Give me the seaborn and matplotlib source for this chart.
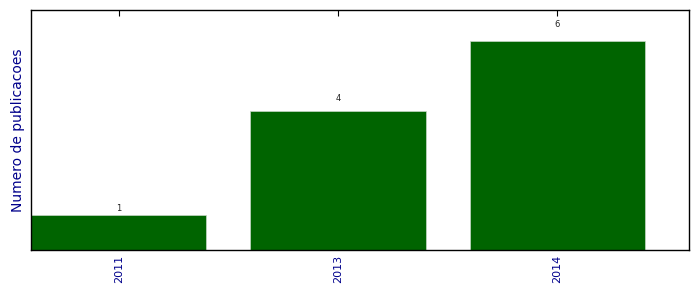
import matplotlib
matplotlib.use("Agg")
import matplotlib.pyplot as plt
import seaborn as sns
import pandas as pd

years = ["2011", "2013", "2014"]
counts = [1, 4, 6]

sns.set_style("ticks")
plt.rcParams['font.family'] = ['DejaVu Sans']

fig = plt.figure(figsize=(6.99, 2.92), dpi=100)
ax = fig.add_axes([31/699, 1 - 250/292, (689-31)/699, (250-10)/292])

df = pd.DataFrame({"year": years, "count": counts})
sns.barplot(data=df, x="year", y="count", color="#006400", saturation=1,
            width=0.8, ax=ax, edgecolor="#c8d8c8", linewidth=0.5)

for i, c in enumerate(counts):
    ax.text(i, 1.06 * c, str(c), ha="center", va="bottom", fontsize=6, color="#222222")

ax.set_xlim(-0.4, 2.6)
ax.set_ylim(0, 6.9)
ax.set_yticks([])
ax.set_xlabel("")
ax.set_ylabel("Numero de publicacoes", color="darkblue", fontsize=10)
ax.tick_params(axis="x", direction="in", length=4, width=0.8, top=True, bottom=True,
               labelrotation=90, labelsize=8, labelcolor="darkblue", color="black")
for s in ax.spines.values():
    s.set_visible(True)
    s.set_linewidth(1)
    s.set_color("black")

fig.savefig("out.png", dpi=100)
